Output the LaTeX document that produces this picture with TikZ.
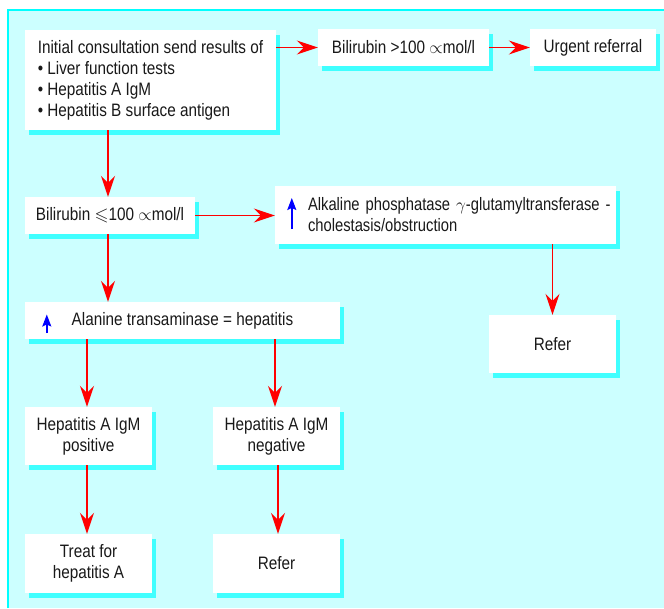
\documentclass[tikz,border=0pt]{standalone}
\usepackage{amssymb}
\usepackage{fontspec}
\setmainfont[FakeStretch=0.85]{Liberation Sans}
\newfontfamily\narrowerfont[FakeStretch=0.82]{Liberation Sans}
\usetikzlibrary{arrows.meta,shadows,calc}
\definecolor{bgcyan}{RGB}{204,255,255}
\definecolor{framecyan}{RGB}{0,255,255}
\definecolor{shadowcyan}{RGB}{64,255,255}
\definecolor{txt}{RGB}{25,25,25}
\begin{document}
\begin{tikzpicture}[x=1pt,y=-1pt,
  box/.style={fill=white, draw=none, inner sep=0pt, text=txt,
    font=\fontsize{18}{21}\selectfont,
    general shadow={fill=shadowcyan, shadow xshift=4pt, shadow yshift=-5pt}},
  redarr/.style={draw=red, line width=1.7pt, -{Stealth[length=21pt,width=14pt,inset=7pt,fill=red]}},
  bluearr/.style={draw=blue, line width=1.5pt, -{Stealth[length=12pt,width=9pt,inset=2pt,fill=blue]}}]
\useasboundingbox (0,0) rectangle (664,608);
\fill[white] (0,0) rectangle (664,608);
\fill[bgcyan] (8,10) rectangle (664,608);
\draw[framecyan, line width=1.5pt] (8,608) -- (8,10) -- (664,10);

\node[box, minimum width=251pt, minimum height=100pt, align=left] (b1) at (150.5,80)
  {Initial consultation send results of\\
   \textbullet\ Liver function tests\\
   \textbullet\ Hepatitis A IgM\\
   \textbullet\ Hepatitis B surface antigen};
\node[box, minimum width=171pt, minimum height=37pt] (b2) at (403.5,47.5)
  {Bilirubin >100 $\propto$mol/l};
\node[box, minimum width=126pt, minimum height=37pt] (b3) at (593,47.5)
  {Urgent referral};
\node[box, minimum width=170pt, minimum height=37pt] (b4) at (110,215.5)
  {Bilirubin $\leqslant$100 $\propto$mol/l};
\node[box, minimum width=341pt, minimum height=58pt, text width=335pt, inner xsep=3pt, align=left] (b5) at (445.5,215)
  {\narrowerfont\hspace*{30pt}\mbox{Alkaline phosphatase $\gamma$-glutamyltransferase -}\\
   \hspace*{30pt}\mbox{cholestasis/obstruction}};
\node[box, minimum width=315pt, minimum height=37pt] (b6) at (182.5,320.5)
  {Alanine transaminase = hepatitis};
\node[box, minimum width=127pt, minimum height=58pt, align=center] (b7) at (88.5,436)
  {Hepatitis A IgM\\positive};
\node[box, minimum width=127pt, minimum height=58pt, align=center] (b8) at (276.5,436)
  {Hepatitis A IgM\\negative};
\node[box, minimum width=127pt, minimum height=59pt, align=center] (b9) at (88.5,563.5)
  {Treat for\\hepatitis A};
\node[box, minimum width=127pt, minimum height=59pt] (b10) at (276.5,563.5)
  {Refer};
\node[box, minimum width=127pt, minimum height=58pt] (b11) at (552.5,344)
  {Refer};

\draw[bluearr] ($(b5.west)+(17,14)$) -- ($(b5.west)+(17,-17)$);
\draw[bluearr] ($(b6.west)+(22,12.5)$) -- ($(b6.west)+(22,-6)$);

\draw[redarr] (b1.east |- b2.west) -- (b2.west);
\draw[redarr] (b2.east) -- (b3.west);
\draw[redarr] ($(b4.north |- b1.south)+(-2,0)$) -- ($(b4.north)+(-2,0)$);
\draw[redarr] (b4.east) -- (b5.west |- b4.east);
\draw[redarr] ($(b4.south)+(-2,0)$) -- ($(b4.south |- b6.north)+(-2,0)$);
\draw[redarr] (b11.north |- b5.south) -- (b11.north);
\draw[redarr] ($(b7.north |- b6.south)+(-1.5,0)$) -- ($(b7.north)+(-1.5,0)$);
\draw[redarr] ($(b8.north |- b6.south)+(-1.5,0)$) -- ($(b8.north)+(-1.5,0)$);
\draw[redarr] ($(b7.south)+(-1.5,0)$) -- ($(b9.north)+(-1.5,0)$);
\draw[redarr] ($(b8.south)+(1.5,0)$) -- ($(b10.north)+(1.5,0)$);
\end{tikzpicture}
\end{document}
